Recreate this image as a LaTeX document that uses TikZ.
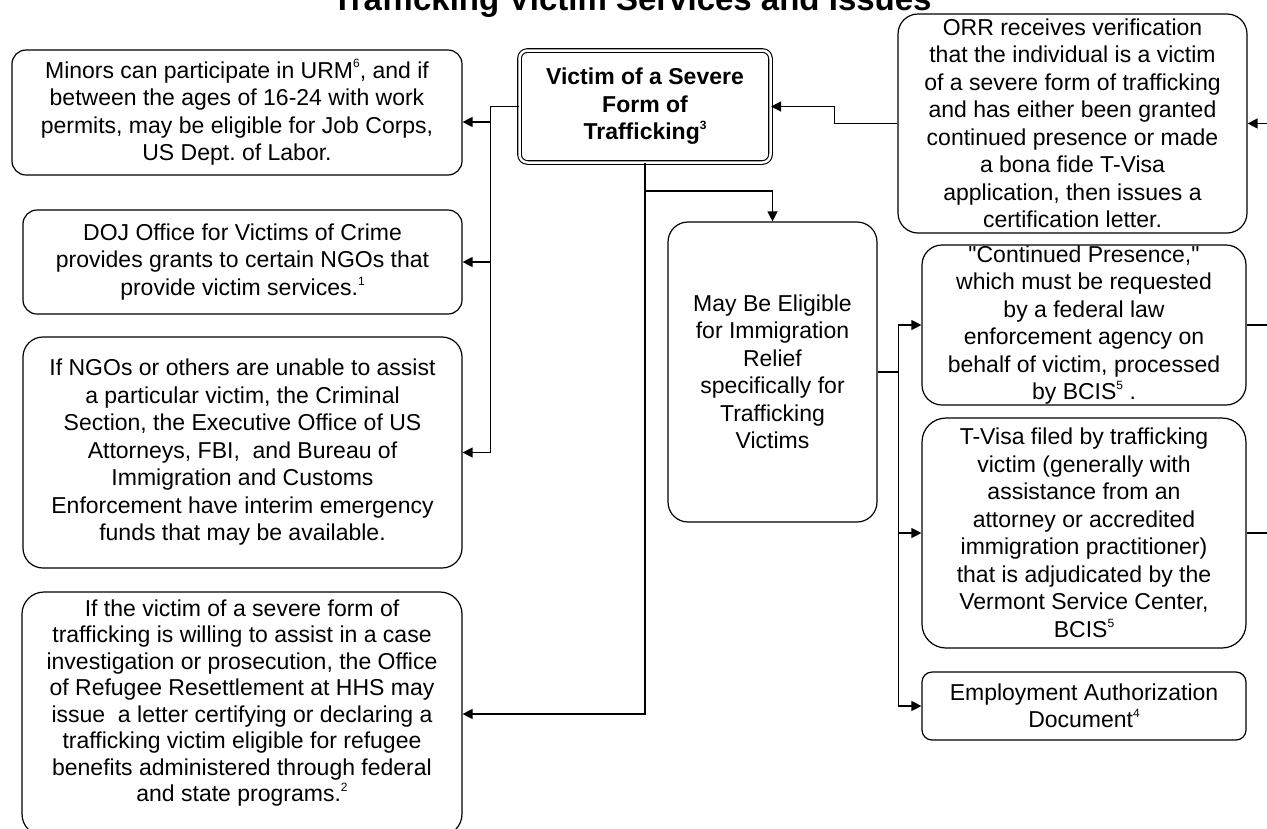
\documentclass[tikz,border=0pt]{standalone}
\usepackage{fontspec}
\setmainfont{Liberation Sans}
\usetikzlibrary{arrows.meta,calc}
\newcommand\supnum[1]{\raisebox{0.45em}{\fontsize{12}{12}\selectfont #1}}
\frenchspacing
\begin{document}
\begin{tikzpicture}[x=1pt,y=-1pt,
  txt/.style={inner sep=0pt, align=center, font=\fontsize{23}{27.5}\selectfont\frenchspacing},
  box/.style={txt, draw, line width=1.2pt, rounded corners=#1},
  box/.default=14pt,
  ln/.style={line width=1.3pt},
  arr/.style={line width=1.3pt, -{Triangle[length=10pt,width=10pt]}},
]
\useasboundingbox (0,0) rectangle (1267,828);
\clip (0,0) rectangle (1267,828);
\fill[white] (0,0) rectangle (1267,828);

% title (cut at top)
\node[anchor=base, inner sep=0pt, font=\bfseries\fontsize{33}{33}\selectfont] (title) at (632,10) {Trafficking Victim Services and Issues};

% left column
\node[box=14pt, minimum width=450pt, minimum height=125pt] (M) at (237,112.5)
 {Minors can participate in URM\supnum{6}, and if\\ between the ages of 16-24 with work\\ permits, may be eligible for Job Corps,\\ US Dept. of Labor.};
\node[box=14pt, minimum width=439pt, minimum height=104pt] (D) at (242.5,262)
 {DOJ Office for Victims of Crime\\ provides grants to certain NGOs that\\ provide victim services.\supnum{1}};
\node[box=20pt, minimum width=439pt, minimum height=231pt] (N) at (242.5,452.5)
 {If NGOs or others are unable to assist\\ a particular victim, the Criminal\\ Section, the Executive Office of US\\ Attorneys, FBI,~ and Bureau of\\ Immigration and Customs\\ Enforcement have interim emergency\\ funds that may be available.};
\node[box=22pt, minimum width=440pt, minimum height=244pt] (L) at (242,714) {};
\node[txt, font=\fontsize{23}{26.5}\selectfont\frenchspacing] (Ltext) at (242,703)
 {If the victim of a severe form of\\ trafficking is willing to assist in a case\\ investigation or prosecution, the Office\\ of Refugee Resettlement at HHS may\\ issue~ a letter certifying or declaring a\\ trafficking victim eligible for refugee\\ benefits administered through federal\\ and state programs.\supnum{2}};

% centre
\node[box=8pt, double, double distance=2.5pt, line width=1.1pt, minimum width=251pt, minimum height=112pt, font=\bfseries\fontsize{23}{27.5}\selectfont] (V) at (645,106.5)
 {Victim of a Severe\\ Form of\\ Trafficking\supnum{3}};
\node[box=20pt, minimum width=209pt, minimum height=300pt] (E) at (772.5,372)
 {May Be Eligible\\ for Immigration\\ Relief\\ specifically for\\ Trafficking\\ Victims};

% right column
\node[box=20pt, minimum width=349pt, minimum height=219pt] (O) at (1072.5,123.5)
 {ORR receives verification\\ that the individual is a victim\\ of a severe form of trafficking\\ and has either been granted\\ continued presence or made\\ a bona fide T-Visa\\ application, then issues a\\ certification letter.};
\node[box=20pt, minimum width=324pt, minimum height=160pt] (C) at (1084,325)
 {\textquotedbl Continued Presence,\textquotedbl\\ which must be requested\\ by a federal law\\ enforcement agency on\\ behalf of victim, processed\\ by BCIS\supnum{5} .};
\node[box=24pt, minimum width=324pt, minimum height=230pt] (T) at (1084,533)
 {T-Visa filed by trafficking\\ victim (generally with\\ assistance from an\\ attorney or accredited\\ immigration practitioner)\\ that is adjudicated by the\\ Vermont Service Center,\\ BCIS\supnum{5}};
\node[box=10pt, minimum width=324pt, minimum height=68pt] (A) at (1084,706)
 {Employment Authorization\\ Document\supnum{4}};

% free ends at the right edge
\coordinate (rO) at (1267,123.5);
\coordinate (rC) at (1267,325);
\coordinate (rT) at (1267,533);

% connectors: left bus
\coordinate (busN) at ([xshift=28pt]N.east);
\draw[ln] (V.west) -| (busN);
\draw[arr] ([xshift=28pt,yshift=-9.5pt]M.east) -- ([yshift=-9.5pt]M.east);
\draw[arr] ([xshift=28pt]D.east) -- (D.east);
\draw[arr] (busN) -- (N.east);

% down from victim box
\draw[arr] (V.south) |- (L.east);
\draw[arr] ($(V.south)+(0,28)$) -| (E.north);

% ORR to victim
\draw[arr] (O.west) -- ++(-63,0) |- (V.east);
\draw[arr] (rO) -- (O.east);

% immigration relief branches
\coordinate (ej) at ([xshift=21pt]E.east);
\draw[ln] (E.east) -- (ej);
\draw[arr] (ej) |- (C.west);
\draw[arr] (ej) |- (T.west);
\draw[arr] (ej) |- (A.west);
\draw[ln] (C.east) -- (rC);
\draw[ln] (T.east) -- (rT);
\end{tikzpicture}
\end{document}
